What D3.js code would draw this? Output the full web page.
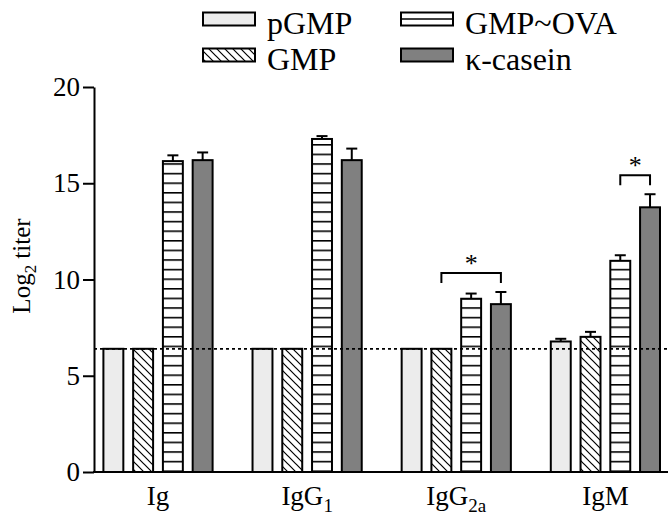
<!DOCTYPE html>
<html><head><meta charset="utf-8">
<script src="https://cdn.jsdelivr.net/npm/d3@7"></script>
<style>body{margin:0;background:#fff}svg{display:block}text{font-family:"Liberation Serif","Times New Roman",serif}</style>
</head><body>
<script>
// ---- data ----
const groups = ["Ig", "IgG1", "IgG2a", "IgM"];
const groupMain = ["Ig", "IgG", "IgG", "IgM"];
const groupSub = ["", "1", "2a", ""];
const seriesNames = ["pGMP", "GMP", "GMP~OVA", "κ-casein"];
const pGMP = [6.4, 6.4, 6.4, 6.78];
const GMP = [6.4, 6.4, 6.4, 7.02];
const GMP_OVA = [16.15, 17.3, 9.0, 10.97];
const kCasein = [16.2, 16.2, 8.72, 13.75];
const pGMPErr = [0, 0, 0, 0.14];
const GMPErr = [0, 0, 0, 0.26];
const GMP_OVAErr = [0.3, 0.15, 0.27, 0.29];
const kCaseinErr = [0.4, 0.6, 0.63, 0.68];
const yTicks = [0, 5, 10, 15, 20];
const detectionLimit = 6.4;
const significance = [
  {group: "IgG2a", from: "GMP", to: "κ-casein", label: "*"},
  {group: "IgM", from: "GMP~OVA", to: "κ-casein", label: "*"}
];

const values = [pGMP, GMP, GMP_OVA, kCasein];
const errors = [pGMPErr, GMPErr, GMP_OVAErr, kCaseinErr];

const W = 669, H = 516;
const FONT = "Liberation Serif";
const svg = d3.select("body").append("svg").attr("width", W).attr("height", H);

const defs = svg.append("defs");
// diagonal hatch "\\"
const pd = defs.append("pattern").attr("id", "diag").attr("patternUnits", "userSpaceOnUse")
  .attr("width", 8).attr("height", 8);
pd.append("rect").attr("width", 8).attr("height", 8).attr("fill", "#fff");
pd.append("path").attr("d", "M0,0L8,8M-2,6L2,10M6,-2L10,2").attr("stroke", "#000").attr("stroke-width", 1.2);
// horizontal stripes
const ph = defs.append("pattern").attr("id", "hstripe").attr("patternUnits", "userSpaceOnUse")
  .attr("width", 10).attr("height", 9.6);
ph.append("rect").attr("width", 10).attr("height", 9.6).attr("fill", "#fff");
ph.append("line").attr("x1", 0).attr("x2", 10).attr("y1", 0.8).attr("y2", 0.8).attr("stroke", "#000").attr("stroke-width", 1.6);

const fills = ["#ececec", "url(#diag)", "url(#hstripe)", "#808080"];

// ---- scales ----
const y = d3.scaleLinear().domain([0, 20]).range([472, 87]);
const x0 = d3.scalePoint().domain(groups).range([158, 605.4]);
const x1 = d3.scaleBand().domain(seriesNames).range([-54.6, 54.6]).paddingInner(0.33);
const xLeft = 94, xRight = 668;

// ---- bars ----
const barData = [];
groups.forEach((g, gi) => seriesNames.forEach((s, si) => {
  barData.push({g, s, si, v: values[si][gi], e: errors[si][gi]});
}));
const gBars = svg.append("g");
gBars.selectAll("rect").data(barData).enter().append("rect")
  .attr("x", d => x0(d.g) + x1(d.s))
  .attr("y", d => y(d.v))
  .attr("width", x1.bandwidth())
  .attr("height", d => y(0) - y(d.v))
  .attr("fill", d => fills[d.si])
  .attr("stroke", "#000").attr("stroke-width", 2);

// error bars (upper only)
const gErr = svg.append("g").attr("stroke", "#000").attr("stroke-width", 2);
barData.filter(d => d.e > 0).forEach(d => {
  const cx = x0(d.g) + x1(d.s) + x1.bandwidth() / 2;
  gErr.append("line").attr("x1", cx).attr("x2", cx).attr("y1", y(d.v)).attr("y2", y(d.v + d.e));
  gErr.append("line").attr("x1", cx - 5.5).attr("x2", cx + 5.5).attr("y1", y(d.v + d.e)).attr("y2", y(d.v + d.e));
});

// detection limit dotted line
svg.append("line").attr("x1", xLeft).attr("x2", xRight)
  .attr("y1", y(detectionLimit)).attr("y2", y(detectionLimit))
  .attr("stroke", "#000").attr("stroke-width", 1.8).attr("stroke-dasharray", "3,3");

// significance brackets
const gSig = svg.append("g");
significance.forEach(s => {
  const gi = groups.indexOf(s.group);
  const xa = x0(s.group) + x1(s.from) + x1.bandwidth() / 2;
  const xb = x0(s.group) + x1(s.to) + x1.bandwidth() / 2;
  const ia = seriesNames.indexOf(s.from), ib = seriesNames.indexOf(s.to);
  let top = 0;
  for (let i = ia; i <= ib; i++) top = Math.max(top, values[i][gi] + errors[i][gi]);
  const by = y(top) - 19;
  gSig.append("path").attr("d", `M${xa},${by + 10}V${by}H${xb}V${by + 10}`)
    .attr("fill", "none").attr("stroke", "#000").attr("stroke-width", 2);
  gSig.append("text").attr("x", (xa + xb) / 2).attr("y", by - 1)
    .attr("text-anchor", "middle").attr("font-size", 26).attr("font-family", FONT).text(s.label);
});

// ---- axes ----
const yAxis = d3.axisLeft(y).tickValues(yTicks).tickSize(11).tickSizeOuter(0).tickPadding(3);
const gy = svg.append("g").attr("transform", `translate(${xLeft},0)`).call(yAxis)
  .attr("font-family", FONT).attr("font-size", 27);
gy.selectAll("path,line").attr("stroke", "#000").attr("stroke-width", 2);
gy.selectAll("text").attr("font-size", 27).attr("font-family", FONT).attr("fill", "#000");

svg.append("line").attr("x1", xLeft - 1).attr("x2", xRight).attr("y1", y(0)).attr("y2", y(0))
  .attr("stroke", "#000").attr("stroke-width", 2);

// x labels
groups.forEach((g, i) => {
  const t = svg.append("text").attr("x", x0(g)).attr("y", 505).attr("text-anchor", "middle")
    .attr("font-size", 27).attr("font-family", FONT);
  t.append("tspan").text(groupMain[i]);
  if (groupSub[i]) t.append("tspan").attr("font-size", 19).attr("dy", 7).text(groupSub[i]);
});

// y title
const yt = svg.append("text").attr("transform", "translate(30,266) rotate(-90)")
  .attr("text-anchor", "middle").attr("font-size", 25).attr("font-family", FONT);
yt.append("tspan").text("Log");
yt.append("tspan").attr("font-size", 17).attr("dy", 6).text("2");
yt.append("tspan").attr("dy", -6).text(" titer");

// ---- legend ----
const legPos = [
  {x: 203, y: 12.5}, {x: 203, y: 48.5}, {x: 401, y: 12.5}, {x: 401, y: 48.5}
];
seriesNames.forEach((s, i) => {
  const p = legPos[i];
  svg.append("rect").attr("x", p.x).attr("y", p.y).attr("width", 52).attr("height", 13)
    .attr("fill", i === 2 ? "#fff" : fills[i]).attr("stroke", "#000").attr("stroke-width", 2);
  if (i === 2) svg.append("line").attr("x1", p.x).attr("x2", p.x + 52)
    .attr("y1", p.y + 6.5).attr("y2", p.y + 6.5).attr("stroke", "#000").attr("stroke-width", 1.6);
  svg.append("text").attr("x", p.x + 64).attr("y", p.y + 21).attr("font-size", 32)
    .attr("font-family", FONT).text(s);
});
</script>
</body></html>
